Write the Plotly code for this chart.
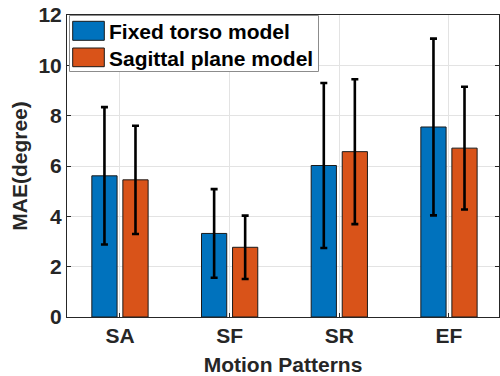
import plotly.graph_objects as go

categories = ["SA", "SF", "SR", "EF"]
fixed_mean = [5.61, 3.32, 6.02, 7.55]
fixed_std = [2.73, 1.76, 3.28, 3.51]
sagittal_mean = [5.45, 2.77, 6.57, 6.71]
sagittal_std = [2.15, 1.26, 2.88, 2.44]
series_names = ["Fixed torso model", "Sagittal plane model"]
colors = ["#0072BD", "#D95319"]
y_ticks = [0, 2, 4, 6, 8, 10, 12]

W, H = 500, 376
L, R, T, B = 67, 1, 15, 59
pw, ph = W - L - R, H - T - B

xpos = list(range(1, len(categories) + 1))
font_family = "Liberation Sans, Arial, sans-serif"
axis_col = "#262626"

fig = go.Figure()
for name, mean, std, col in [(series_names[0], fixed_mean, fixed_std, colors[0]),
                             (series_names[1], sagittal_mean, sagittal_std, colors[1])]:
    fig.add_trace(go.Bar(
        x=xpos, y=mean, name=name,
        marker=dict(color=col, line=dict(color="#1a1a1a", width=1)),
        error_y=dict(type="data", array=std, visible=True, color="black",
                     thickness=2.6, width=3.5),
        showlegend=False,
    ))

# manual legend (MATLAB style)
def px2x(px):
    return (px - L) / pw

def py2y(py):
    return (H - B - py) / ph

shapes = [dict(type="rect", xref="paper", yref="paper",
               x0=px2x(69.5), x1=px2x(318.5), y0=py2y(71.5), y1=py2y(15.5),
               line=dict(color="#8c8c8c", width=1), fillcolor="white", layer="above")]
sw = [(21.3, 40.3), (48, 66.7)]
ty = [31.7, 59]
annotations = []
for i in range(2):
    shapes.append(dict(type="rect", xref="paper", yref="paper",
                       x0=px2x(72.7), x1=px2x(104.3), y0=py2y(sw[i][1]), y1=py2y(sw[i][0]),
                       line=dict(color="#1a1a1a", width=1), fillcolor=colors[i], layer="above"))
    annotations.append(dict(xref="paper", yref="paper", x=px2x(106.5), y=py2y(ty[i]),
                            xanchor="left", yanchor="middle", showarrow=False,
                            text=series_names[i],
                            font=dict(family=font_family, size=21, color="black", weight="bold")))

fig.update_layout(
    width=W, height=H,
    margin=dict(l=L, r=R, t=T, b=B),
    plot_bgcolor="white", paper_bgcolor="white",
    barmode="group", bargap=0.434, bargroupgap=0.187,
    font=dict(family=font_family, color=axis_col),
    shapes=shapes, annotations=annotations,
    xaxis=dict(
        range=[0.517, 4.456], tickvals=xpos, ticktext=categories,
        automargin=False,
        showgrid=True, gridcolor="#e3e3e3", gridwidth=1,
        showline=True, linecolor=axis_col, linewidth=1, mirror=True,
        ticks="inside", ticklen=4, tickcolor=axis_col,
        tickfont=dict(family=font_family, size=21, color=axis_col, weight="bold"),
        title=dict(text="Motion Patterns", standoff=12,
                   font=dict(family=font_family, size=21, color=axis_col, weight="bold")),
        zeroline=False,
    ),
    yaxis=dict(
        range=[0, 12], tickvals=y_ticks,
        automargin=False,
        showgrid=True, gridcolor="#e3e3e3", gridwidth=1,
        showline=True, linecolor=axis_col, linewidth=1, mirror="ticks",
        ticks="inside", ticklen=4, tickcolor=axis_col,
        tickfont=dict(family=font_family, size=21, color=axis_col, weight="bold"),
        title=dict(text="MAE(degree)", standoff=5,
                   font=dict(family=font_family, size=21, color=axis_col, weight="bold")),
        zeroline=False,
    ),
)

fig.write_html("out.html", config={"displayModeBar": False},
               post_script="document.body.style.margin='0px';document.body.style.overflow='hidden';")
